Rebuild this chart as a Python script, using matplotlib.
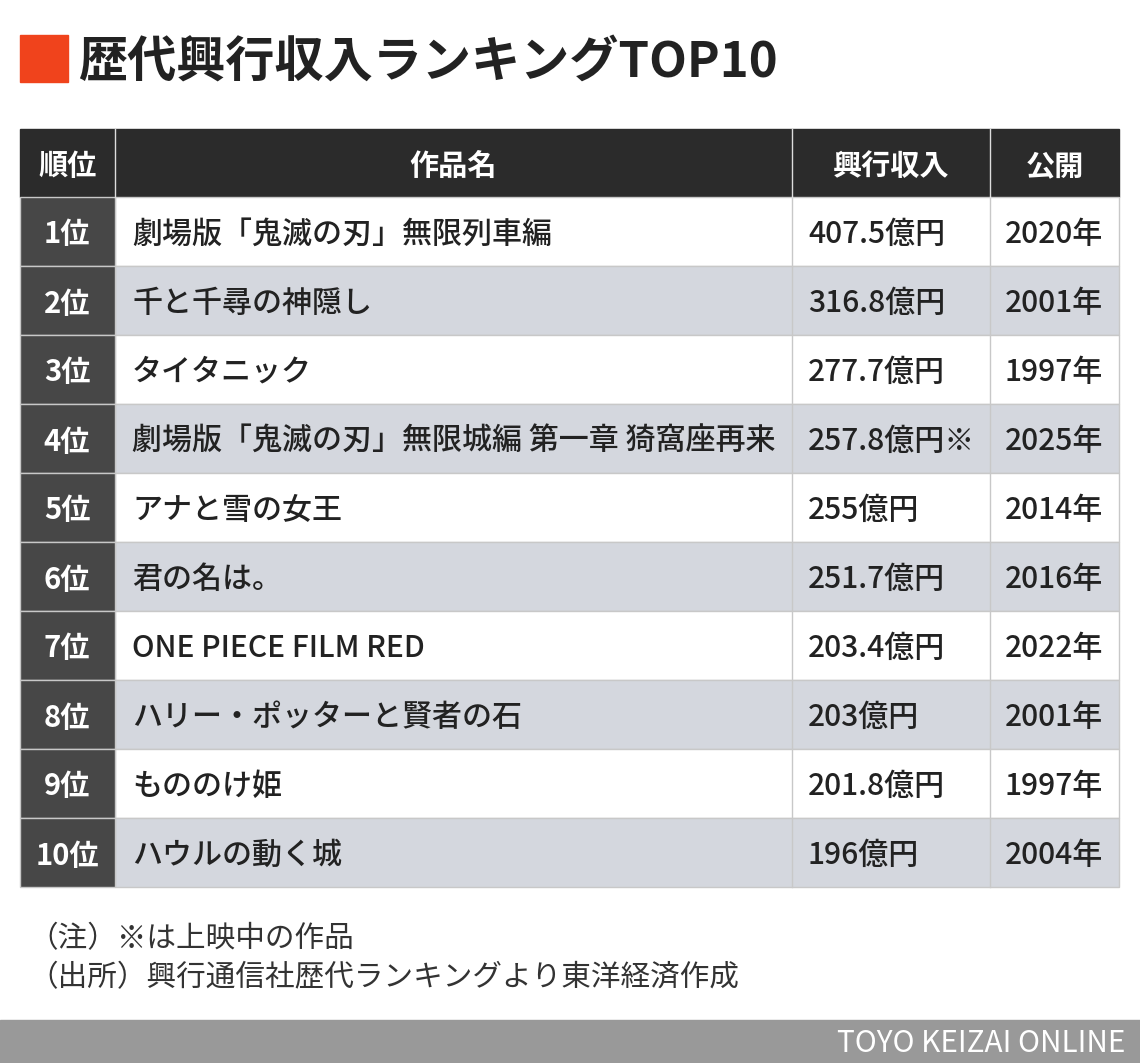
import matplotlib
matplotlib.use("Agg")
import matplotlib.pyplot as plt
from matplotlib.patches import Rectangle

ranks = ["1位","2位","3位","4位","5位","6位","7位","8位","9位","10位"]
titles = ["劇場版「鬼滅の刃」無限列車編","千と千尋の神隠し","タイタニック",
          "劇場版「鬼滅の刃」無限城編 第一章 猗窩座再来","アナと雪の女王","君の名は。",
          "ONE PIECE FILM RED","ハリー・ポッターと賢者の石","もののけ姫","ハウルの動く城"]
revenues = ["407.5億円","316.8億円","277.7億円","257.8億円※","255億円","251.7億円",
            "203.4億円","203億円","201.8億円","196億円"]
years = ["2020年","2001年","1997年","2025年","2014年","2016年","2022年","2001年","1997年","2004年"]
headers = ["順位","作品名","興行収入","公開"]

FONT = "Noto Sans CJK JP"
fig = plt.figure(figsize=(11.4, 10.63), dpi=100)
ax = fig.add_axes([0, 0, 1, 1])
ax.set_xlim(0, 1140); ax.set_ylim(1063, 0); ax.axis("off")
fig.patch.set_facecolor("white")

# title
ax.add_patch(Rectangle((20, 35), 48, 47, color="#f0431c"))
ax.text(78, 62, "歴代興行収入ランキングTOP10", fontsize=35.4, fontweight="bold",
        family=FONT, va="center", ha="left", color="#222222")

cols = [20, 115, 792, 990, 1119]
top, hh, rh = 129, 68, 69
dy = 3
ax.add_patch(Rectangle((20, top), 1099, hh, color="#2b2b2b"))
for i, h in enumerate(headers):
    cx = (cols[i] + cols[i+1]) / 2
    ax.text(cx, top + hh/2 + dy, h, fontsize=21, fontweight="bold", family=FONT,
            color="white", ha="center", va="center")
for j in range(len(ranks)):
    y0 = top + hh + j*rh
    bg = "white" if j % 2 == 0 else "#d4d7de"
    ax.add_patch(Rectangle((115, y0), 1004, rh, facecolor=bg, edgecolor="#c8c8c8", lw=1))
    ax.add_patch(Rectangle((20, y0), 95, rh, facecolor="#474747", edgecolor="#c8c8c8", lw=1))
    yc = y0 + rh/2 + dy
    ax.text(67, yc, ranks[j], fontsize=21, fontweight="bold", family=FONT,
            color="white", ha="center", va="center")
    ax.text(132, yc, titles[j], fontsize=21.6, fontweight="medium", family=FONT,
            color="#222222", ha="left", va="center")
    ax.text(808, yc, revenues[j], fontsize=21.6, fontweight="medium", family=FONT,
            color="#222222", ha="left", va="center")
    ax.text(1054, yc, years[j], fontsize=21.6, fontweight="medium", family=FONT,
            color="#222222", ha="center", va="center")
for x in cols[2:4]:
    ax.plot([x, x], [top + hh, top + hh + 10*rh], color="#c8c8c8", lw=1)
for x in cols[1:4]:
    ax.plot([x, x], [top, top + hh], color="#dddddd", lw=1)

ax.text(28, 939, "（注）※は上映中の作品", fontsize=21.3, family=FONT, color="#333333", ha="left", va="center")
ax.text(28, 978, "（出所）興行通信社歴代ランキングより東洋経済作成", fontsize=21.3, family=FONT,
        color="#333333", ha="left", va="center")

ax.add_patch(Rectangle((0, 1020), 1140, 43, color="#999999"))
ax.text(1125, 1043, "TOYO KEIZAI ONLINE", fontsize=21.4, family=FONT, color="white",
        ha="right", va="center")

fig.savefig("out.png", dpi=100)
